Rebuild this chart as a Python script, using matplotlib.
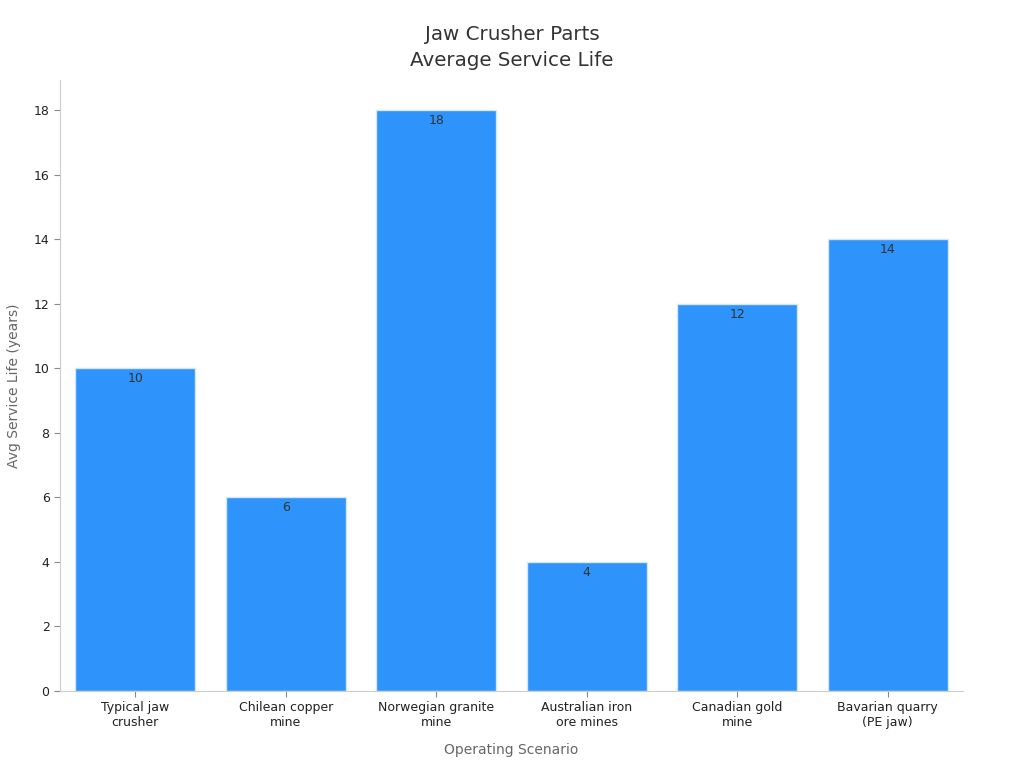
import matplotlib
matplotlib.use("Agg")
from matplotlib import pyplot as plt

scenarios = ["Typical jaw\ncrusher", "Chilean copper\nmine", "Norwegian granite\nmine",
             "Australian iron\nore mines", "Canadian gold\nmine", "Bavarian quarry\n(PE jaw)"]
life_years = [10, 6, 18, 4, 12, 14]

fig = plt.figure(figsize=(10.24, 7.68), dpi=100)
ax = fig.add_axes([0.0586, 0.1003, 0.8818, 0.7955])

x = range(len(scenarios))
bars = ax.bar(x, life_years, width=0.8, color="#2E93FA", edgecolor="#d6e6f7", linewidth=1)
for b, v in zip(bars, life_years):
    ax.text(b.get_x() + b.get_width() / 2, v - 0.12, str(v), ha="center", va="top",
            fontsize=9, color="#333333")

ax.set_xlim(-0.5, 5.5)
ax.set_ylim(0, 18.93)
ax.set_yticks(range(0, 19, 2))
ax.set_xticks(list(x))
ax.set_xticklabels(scenarios, fontsize=9, color="#222222")
ax.tick_params(axis="y", labelsize=9, colors="#222222")
ax.tick_params(color="#888888", length=4)

for s in ["top", "right"]:
    ax.spines[s].set_visible(False)
for s in ["left", "bottom"]:
    ax.spines[s].set_color("#cccccc")

ax.set_xlabel("Operating Scenario", fontsize=10, color="#666666", labelpad=10)
ax.set_ylabel("Avg Service Life (years)", fontsize=10, color="#666666", labelpad=9)
fig.suptitle("Jaw Crusher Parts\nAverage Service Life", fontsize=14.3, color="#333333",
             y=0.968, linespacing=1.5)

fig.savefig("out.png", dpi=100)
